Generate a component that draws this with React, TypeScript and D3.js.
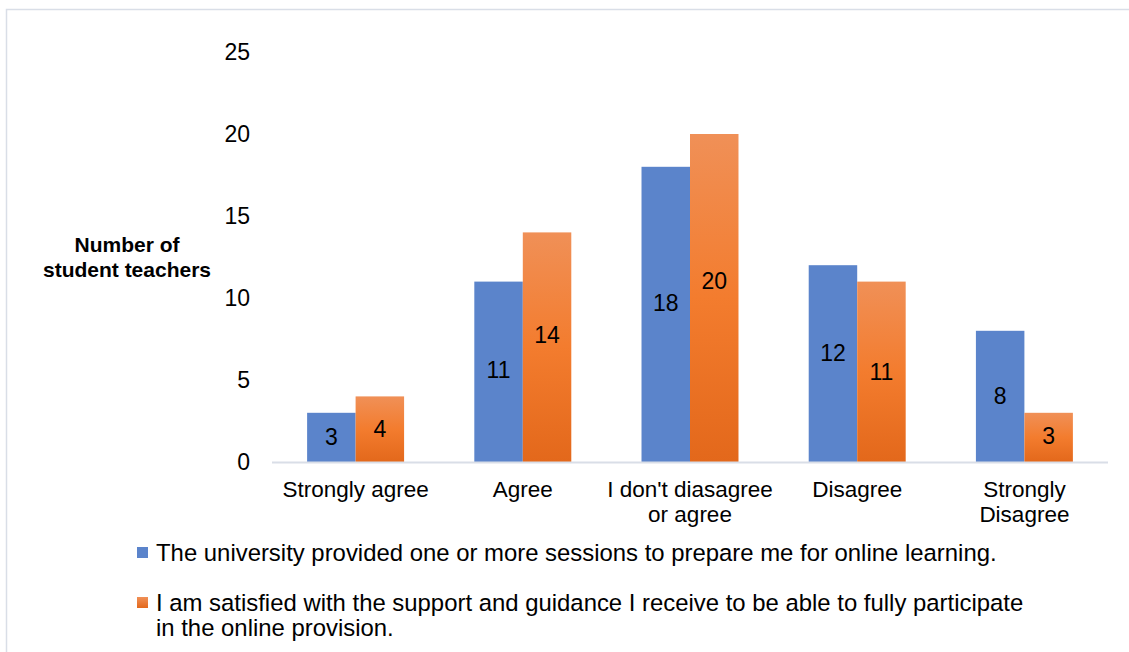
import React from "react";
import * as d3 from "d3";

const categories = [
  ["Strongly agree"],
  ["Agree"],
  ["I don't diasagree", "or agree"],
  ["Disagree"],
  ["Strongly", "Disagree"],
];
const seriesNames = [
  "The university provided one or more sessions to prepare me for online learning.",
  "I am satisfied with the support and guidance I receive to be able to fully participate|in the online provision.",
];
const universitySessions = [3, 11, 18, 12, 8];
const satisfiedSupport = [4, 14, 20, 11, 3];
// value-axis level where each data label sits (as placed in the source chart)
const universityLabelAt = [1.52, 5.6, 9.7, 6.65, 4.0];
const satisfiedLabelAt = [2.0, 7.75, 11.05, 5.5, 1.6];
const yTicks = [0, 5, 10, 15, 20, 25];

const W = 1129;
const H = 652;

export default function App() {
  const x0 = d3.scaleBand<number>().domain(d3.range(categories.length)).range([272, 1108]).paddingInner(0.42).paddingOuter(0.21);
  const x1 = d3.scaleBand<number>().domain([0, 1]).range([0, x0.bandwidth()]);
  const y = d3.scaleLinear().domain([0, 25]).range([462, 52]);
  const series = [universitySessions, satisfiedSupport];
  const labelAt = [universityLabelAt, satisfiedLabelAt];
  const fills = ["#5B84CB", "url(#orangeGrad)"];
  const font = "Liberation Sans, Arial, sans-serif";

  return (
    <svg width={W} height={H} style={{ position: "absolute", left: 0, top: 0 }} fontFamily={font}>
      <defs>
        <linearGradient id="orangeGrad" x1="0" y1="0" x2="0" y2="1">
          <stop offset="0" stopColor="#F09057" />
          <stop offset="0.5" stopColor="#F37C2E" />
          <stop offset="1" stopColor="#E3681B" />
        </linearGradient>
        <linearGradient id="orangeLeg" x1="0" y1="0" x2="0" y2="1">
          <stop offset="0" stopColor="#F09057" />
          <stop offset="1" stopColor="#E3681B" />
        </linearGradient>
      </defs>
      <rect x={0} y={0} width={W} height={H} fill="#fff" />
      <rect x={6.5} y={9.5} width={W + 20} height={H + 20} fill="none" stroke="#D9DEE7" strokeWidth={1.5} />

      {yTicks.map((t) => (
        <text key={t} x={250} y={y(t)} dy="0.35em" textAnchor="end" fontSize={23} fill="#000">
          {t}
        </text>
      ))}

      <text x={127} y={245} dy="0.35em" textAnchor="middle" fontSize={21} fontWeight="bold" fill="#000">
        Number of
      </text>
      <text x={127} y={270} dy="0.35em" textAnchor="middle" fontSize={21} fontWeight="bold" fill="#000">
        student teachers
      </text>

      {categories.map((c, i) => (
        <g key={i}>
          {series.map((s, j) => {
            const bx = (x0(i) as number) + (x1(j) as number);
            const by = y(s[i]);
            return (
              <g key={j}>
                <rect x={bx} y={by} width={x1.bandwidth()} height={y(0) - by} fill={fills[j]} />
                <text x={bx + x1.bandwidth() / 2} y={y(labelAt[j][i])} dy="0.35em" textAnchor="middle" fontSize={23} fill="#000">
                  {s[i]}
                </text>
              </g>
            );
          })}
          {c.map((line, k) => (
            <text key={k} x={(x0(i) as number) + x0.bandwidth() / 2} y={489 + k * 25} dy="0.35em" textAnchor="middle" fontSize={22.5} fill="#000">
              {line}
            </text>
          ))}
        </g>
      ))}

      <line x1={272} x2={1108} y1={462.5} y2={462.5} stroke="#D9DEE7" strokeWidth={2} />

      {seriesNames.map((name, j) => {
        const ly = j === 0 ? 553 : 603;
        return (
          <g key={j}>
            <rect x={137} y={ly - 6} width={11} height={11} fill={j === 0 ? "#5B84CB" : "url(#orangeLeg)"} />
            {name.split("|").map((ln, k) => (
              <text key={k} x={156} y={ly + k * 25} dy="0.35em" fontSize={23.9} fill="#000">
                {ln}
              </text>
            ))}
          </g>
        );
      })}
    </svg>
  );
}
